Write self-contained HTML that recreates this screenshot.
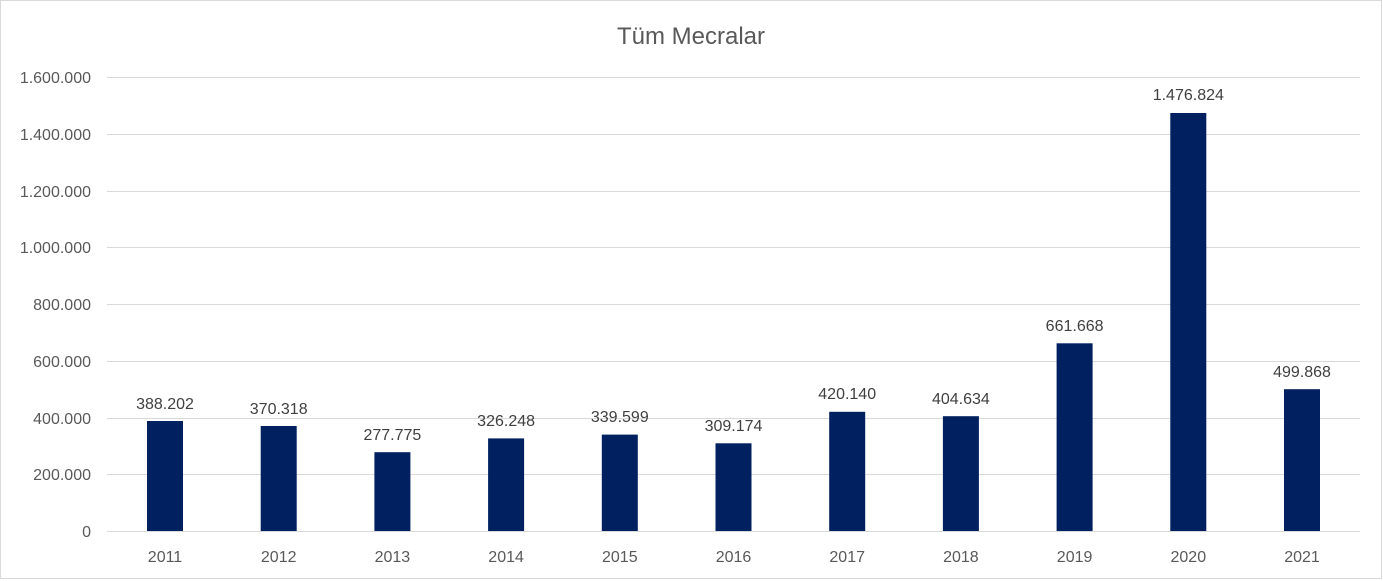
<!DOCTYPE html>
<html><head><meta charset="utf-8"><style>
html,body{margin:0;padding:0;background:#fff}
svg{display:block;font-family:"Liberation Sans",sans-serif}
</style></head><body>
<svg width="1383" height="581" viewBox="0 0 1383 581" xmlns="http://www.w3.org/2000/svg">
<rect x="0.5" y="0.5" width="1381" height="578" fill="#fff" stroke="#d9d9d9"/>
<text x="691" y="44" text-anchor="middle" font-size="24" fill="#595959">Tüm Mecralar</text>
<g stroke="#d9d9d9" stroke-width="1">
<line x1="107" x2="1360" y1="77.5" y2="77.5"/>
<line x1="107" x2="1360" y1="134.5" y2="134.5"/>
<line x1="107" x2="1360" y1="191.5" y2="191.5"/>
<line x1="107" x2="1360" y1="247.5" y2="247.5"/>
<line x1="107" x2="1360" y1="304.5" y2="304.5"/>
<line x1="107" x2="1360" y1="361.5" y2="361.5"/>
<line x1="107" x2="1360" y1="418.5" y2="418.5"/>
<line x1="107" x2="1360" y1="474.5" y2="474.5"/>
<line x1="107" x2="1360" y1="531.5" y2="531.5"/>
</g>
<g font-size="16" fill="#595959" text-anchor="end">
<text x="91" y="83">1.600.000</text>
<text x="91" y="140">1.400.000</text>
<text x="91" y="197">1.200.000</text>
<text x="91" y="253">1.000.000</text>
<text x="91" y="310">800.000</text>
<text x="91" y="367">600.000</text>
<text x="91" y="424">400.000</text>
<text x="91" y="480">200.000</text>
<text x="91" y="537">0</text>
</g>
<g fill="#002060">
<rect x="147" y="421" width="36" height="110"/>
<rect x="260.7" y="426" width="36" height="105"/>
<rect x="374.4" y="452.2" width="36" height="78.8"/>
<rect x="488.1" y="438.4" width="36" height="92.6"/>
<rect x="601.8" y="434.6" width="36" height="96.4"/>
<rect x="715.5" y="443.3" width="36" height="87.7"/>
<rect x="829.2" y="411.8" width="36" height="119.2"/>
<rect x="942.9" y="416.2" width="36" height="114.8"/>
<rect x="1056.6" y="343.3" width="36" height="187.7"/>
<rect x="1170.3" y="113" width="36" height="418"/>
<rect x="1284" y="389.2" width="36" height="141.8"/>
</g>
<g font-size="16" fill="#404040" text-anchor="middle">
<text x="165" y="409">388.202</text>
<text x="278.7" y="414">370.318</text>
<text x="392.4" y="440">277.775</text>
<text x="506.1" y="426">326.248</text>
<text x="619.8" y="422">339.599</text>
<text x="733.5" y="431">309.174</text>
<text x="847.2" y="399">420.140</text>
<text x="960.9" y="404">404.634</text>
<text x="1074.6" y="331">661.668</text>
<text x="1188.3" y="100">1.476.824</text>
<text x="1302" y="377">499.868</text>
</g>
<g font-size="16" fill="#595959" text-anchor="middle">
<text x="165" y="562">2011</text>
<text x="278.7" y="562">2012</text>
<text x="392.4" y="562">2013</text>
<text x="506.1" y="562">2014</text>
<text x="619.8" y="562">2015</text>
<text x="733.5" y="562">2016</text>
<text x="847.2" y="562">2017</text>
<text x="960.9" y="562">2018</text>
<text x="1074.6" y="562">2019</text>
<text x="1188.3" y="562">2020</text>
<text x="1302" y="562">2021</text>
</g>
</svg>
</body></html>
